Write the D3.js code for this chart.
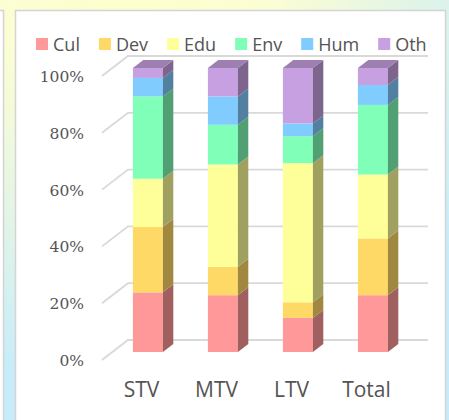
<!DOCTYPE html>
<html>
<head>
<meta charset="utf-8">
<script src="https://cdn.jsdelivr.net/npm/d3@7"></script>
<style>
  html, body { margin: 0; padding: 0; overflow: hidden; }
  svg { display: block; }
</style>
</head>
<body>
<div id="chart"></div>
<script>
// 100% stacked 3D column chart
var width = 449, height = 420;

var categories = ['STV', 'MTV', 'LTV', 'Total'];
var seriesNames = ['Cul', 'Dev', 'Edu', 'Env', 'Hum', 'Oth'];
var seriesColors = ['#FF9999', '#FFD966', '#FFFF99', '#7FFFB8', '#80CCFF', '#C6A0E0'];
var cul = [21, 20, 12, 20];
var dev = [23, 10, 5.5, 20];
var edu = [17, 36, 49, 22.5];
var env = [29, 14, 9.5, 24.5];
var hum = [6.5, 10, 4.5, 7];
var oth = [3.5, 10, 19.5, 6];
var yTicks = [0, 0.2, 0.4, 0.6, 0.8, 1];

var TEXT_COLOR = '#545454';
var GRID_COLOR = '#D9D9D9';
var DEPTH_X = 26, DEPTH_Y = -20; // oblique offset of the floor depth

var seriesValues = [cul, dev, edu, env, hum, oth];
var rows = categories.map(function(c, i) {
  var r = { cat: c };
  seriesNames.forEach(function(s, j) { r[s] = seriesValues[j][i]; });
  return r;
});
var stacked = d3.stack().keys(seriesNames).offset(d3.stackOffsetExpand)(rows);

var svg = d3.select('#chart').append('svg')
  .attr('width', width)
  .attr('height', height);

// background
var defs = svg.append('defs');
var grad = defs.append('radialGradient')
  .attr('id', 'bg')
  .attr('gradientUnits', 'userSpaceOnUse')
  .attr('cx', 130).attr('cy', -40).attr('r', 430);
grad.append('stop').attr('offset', '0%').attr('stop-color', '#FFFFCC');
grad.append('stop').attr('offset', '35%').attr('stop-color', '#FBFDD4');
grad.append('stop').attr('offset', '100%').attr('stop-color', '#C6ECFB');

svg.append('rect').attr('width', width).attr('height', height).attr('fill', 'url(#bg)');

svg.append('rect')
  .attr('x', -10).attr('y', 10.5).attr('width', 13.5).attr('height', 430)
  .attr('fill', '#FFFFFF').style('stroke', '#D4D4D4').attr('stroke-width', 1.5);

svg.append('rect')
  .attr('x', 15.5).attr('y', 10.5).attr('width', 430).attr('height', 430)
  .attr('fill', '#FFFFFF').style('stroke', '#D4D4D4').attr('stroke-width', 1.5);

// scales (front plane, z = 0)
var x = d3.scaleBand().domain(categories).range([100, 400]).paddingInner(0.6).paddingOuter(0.3);
var y = d3.scaleLinear().domain([0, 1]).range([360, 76]);

function proj(px, py, z) {
  return [px + z * DEPTH_X, py + z * DEPTH_Y];
}

// grid: floor-side diagonals and back wall lines
var grid = svg.append('g');
yTicks.forEach(function(t) {
  var a = proj(102, y(t), 0), b = proj(102, y(t), 1), c = proj(402, y(t), 1);
  grid.append('path')
    .attr('d', 'M' + a + 'L' + b + 'L' + c)
    .attr('fill', 'none')
    .style('stroke', GRID_COLOR)
    .attr('stroke-width', 1.8);
});

// y tick labels
svg.append('g').selectAll('text')
  .data(yTicks)
  .enter()
  .append('text')
  .attr('x', 84)
  .attr('y', function(d) { return y(d) + 6; })
  .attr('text-anchor', 'end')
  .attr('font-family', '"DejaVu Serif", "Liberation Serif", serif')
  .attr('font-size', '15.5px')
  .attr('fill', TEXT_COLOR)
  .text(function(d) { return Math.round(d * 100) + '%'; });

// bars
var Z0 = 0.4, Z1 = 0.8;
var bars = svg.append('g');
categories.forEach(function(cat, i) {
  var x0 = x(cat), x1 = x(cat) + x.bandwidth();
  stacked.forEach(function(layer, j) {
    var v0 = layer[i][0], v1 = layer[i][1];
    if (v1 - v0 <= 0) return;
    var col = d3.color(seriesColors[j]);
    var f0 = proj(x0, y(v1), Z0), f1 = proj(x1, y(v0), Z0);
    bars.append('rect')
      .attr('x', f0[0]).attr('y', f0[1])
      .attr('width', f1[0] - f0[0]).attr('height', f1[1] - f0[1])
      .attr('fill', col.formatHex());
    var s = [proj(x1, y(v1), Z0), proj(x1, y(v1), Z1), proj(x1, y(v0), Z1), proj(x1, y(v0), Z0)];
    bars.append('path')
      .attr('d', 'M' + s.join('L') + 'Z')
      .attr('fill', col.darker(1.3).formatHex());
    if (j === stacked.length - 1) {
      var t = [proj(x0, y(v1), Z0), proj(x0, y(v1), Z1), proj(x1, y(v1), Z1), proj(x1, y(v1), Z0)];
      bars.append('path')
        .attr('d', 'M' + t.join('L') + 'Z')
        .attr('fill', col.darker(0.65).formatHex());
    }
  });
});

// category labels
svg.append('g').selectAll('text')
  .data(categories)
  .enter()
  .append('text')
  .attr('x', function(d) { return x(d) + x.bandwidth() / 2 + 4; })
  .attr('y', 397)
  .attr('text-anchor', 'middle')
  .attr('font-family', '"Open Sans", sans-serif')
  .attr('font-size', '21px')
  .attr('fill', TEXT_COLOR)
  .text(function(d) { return d; });

// legend
var legend = svg.append('g');
var lx = 36;
seriesNames.forEach(function(s, j) {
  legend.append('rect')
    .attr('x', lx).attr('y', 38).attr('width', 12).attr('height', 12)
    .attr('fill', seriesColors[j]);
  var txt = legend.append('text')
    .attr('x', lx + 17).attr('y', 50.5)
    .attr('font-family', '"Open Sans", sans-serif')
    .attr('font-size', '18px')
    .attr('fill', TEXT_COLOR)
    .text(s);
  lx += 17 + txt.node().getComputedTextLength() + 19;
});
</script>
</body>
</html>
